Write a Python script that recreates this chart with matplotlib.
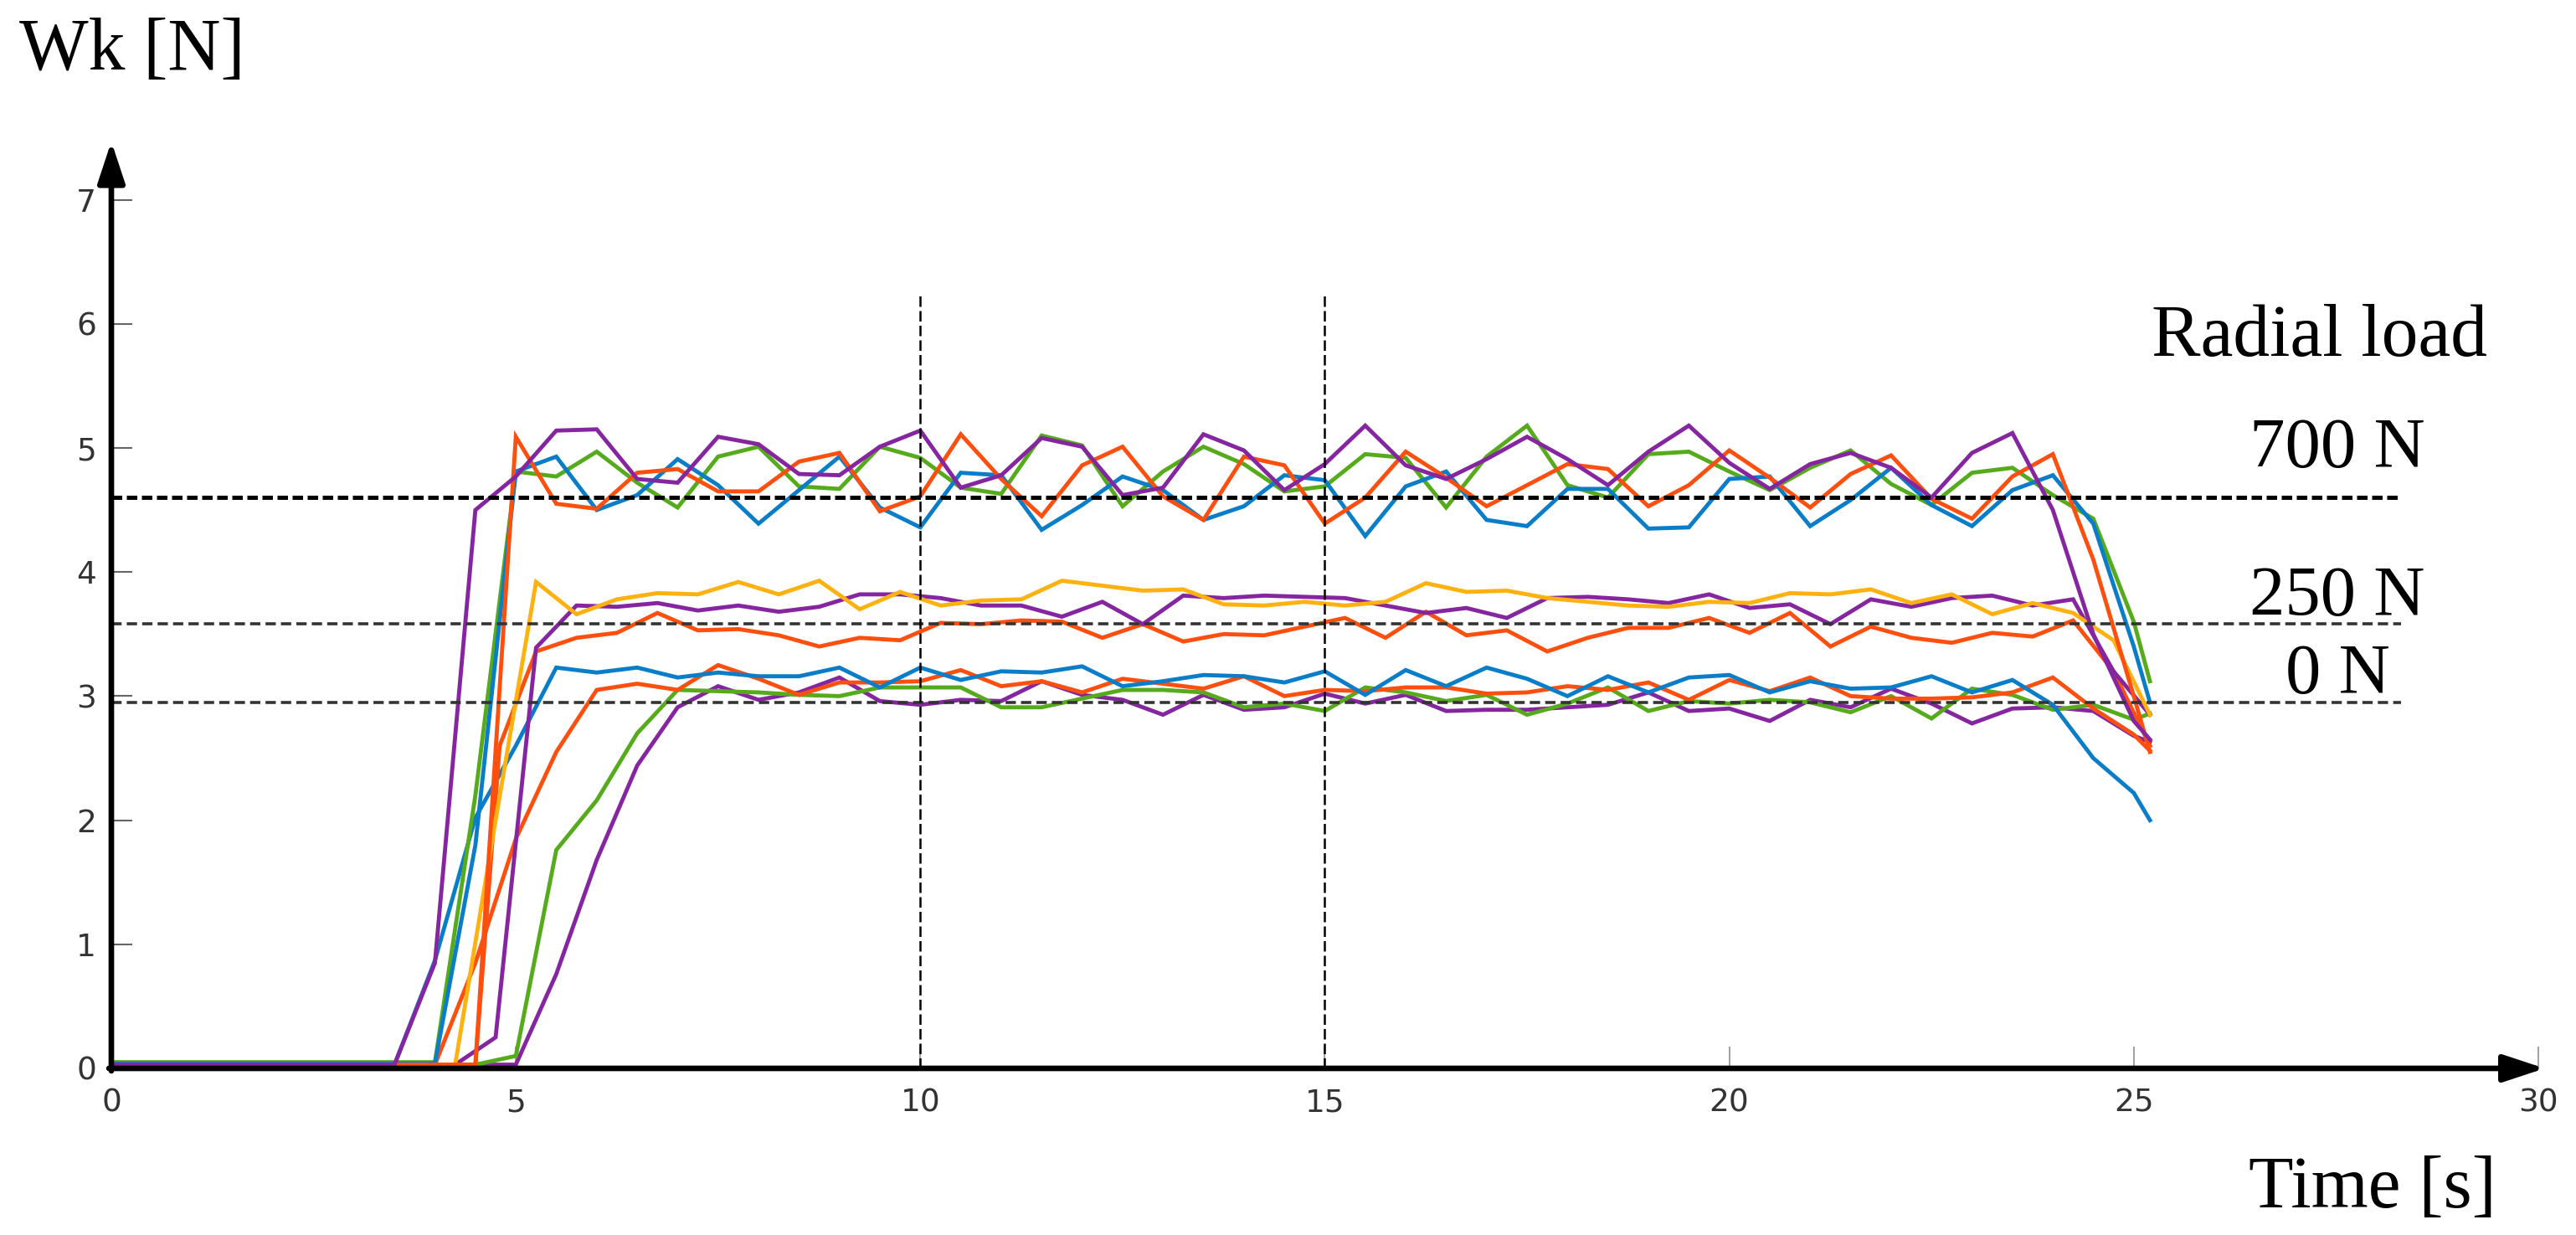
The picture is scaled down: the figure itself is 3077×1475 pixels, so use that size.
import matplotlib
matplotlib.use("Agg")
import matplotlib.pyplot as plt

# ---------------- data ----------------
grid_a = [5.0, 5.5, 6.0, 6.5, 7.0, 7.5, 8.0, 8.5, 9.0, 9.5, 10.0,
          10.5, 11.0, 11.5, 12.0, 12.5, 13.0, 13.5, 14.0, 14.5, 15.0,
          15.5, 16.0, 16.5, 17.0, 17.5, 18.0, 18.5, 19.0, 19.5, 20.0,
          20.5, 21.0, 21.5, 22.0, 22.5, 23.0, 23.5, 24.0]
grid_b = [5.25, 5.75, 6.25, 6.75, 7.25, 7.75, 8.25, 8.75, 9.25, 9.75,
          10.25, 10.75, 11.25, 11.75, 12.25, 12.75, 13.25, 13.75, 14.25, 14.75,
          15.25, 15.75, 16.25, 16.75, 17.25, 17.75, 18.25, 18.75, 19.25, 19.75,
          20.25, 20.75, 21.25, 21.75, 22.25, 22.75, 23.25, 23.75, 24.25]

# 700 N group
a_purple_t = [0, 3.5, 4.0, 4.5] + grid_a + [24.5, 25.0, 25.2]
a_purple = [0.03, 0.03, 0.85, 4.5,
            4.77, 5.14, 5.15, 4.75, 4.72, 5.09, 5.03, 4.79, 4.78, 5.01, 5.14,
            4.68, 4.78, 5.08, 5.01, 4.62, 4.68, 5.11, 4.98, 4.66, 4.87,
            5.18, 4.86, 4.75, 4.91, 5.09, 4.91, 4.70, 4.97, 5.18, 4.88,
            4.67, 4.87, 4.96, 4.84, 4.60, 4.96, 5.12, 4.50,
            3.5, 2.8, 2.65]
a_orange_t = [0, 4.5] + grid_a + [24.5, 25.0, 25.2]
a_orange = [0.03, 0.03,
            5.09, 4.55, 4.51, 4.80, 4.83, 4.65, 4.65, 4.89, 4.96, 4.49, 4.61,
            5.11, 4.75, 4.45, 4.86, 5.01, 4.61, 4.42, 4.93, 4.86, 4.39,
            4.60, 4.97, 4.76, 4.53, 4.70, 4.87, 4.83, 4.53, 4.70, 4.98,
            4.76, 4.52, 4.79, 4.94, 4.59, 4.43, 4.77, 4.95,
            4.1, 3.0, 2.55]
a_blue_t = [0, 4.0, 4.5] + grid_a + [24.5, 25.0, 25.2]
a_blue = [0.04, 0.04, 1.8,
          4.81, 4.93, 4.50, 4.62, 4.91, 4.70, 4.39, 4.66, 4.93, 4.52, 4.36,
          4.80, 4.78, 4.34, 4.54, 4.77, 4.66, 4.42, 4.53, 4.78, 4.74,
          4.29, 4.69, 4.81, 4.42, 4.37, 4.67, 4.67, 4.35, 4.36, 4.75,
          4.77, 4.37, 4.58, 4.84, 4.54, 4.37, 4.66, 4.78,
          4.39, 3.4, 2.95]
a_green_t = [0, 4.0, 4.5] + grid_a + [24.5, 25.0, 25.2]
a_green = [0.05, 0.05, 2.2,
           4.81, 4.77, 4.97, 4.72, 4.52, 4.93, 5.01, 4.69, 4.67, 5.01, 4.92,
           4.68, 4.63, 5.10, 5.02, 4.53, 4.81, 5.01, 4.87, 4.65, 4.69,
           4.95, 4.92, 4.52, 4.93, 5.18, 4.70, 4.60, 4.95, 4.97, 4.81,
           4.66, 4.84, 4.98, 4.71, 4.54, 4.80, 4.84, 4.62,
           4.43, 3.6, 3.12]

# 250 N group
b_yellow_t = [0, 4.25, 4.75] + grid_b + [24.75, 25.2]
b_yellow = [0.03, 0.03, 2.0,
            3.92, 3.66, 3.78, 3.83, 3.82, 3.92, 3.82, 3.93, 3.70, 3.84,
            3.73, 3.77, 3.78, 3.93, 3.89, 3.85, 3.86, 3.74, 3.73, 3.76,
            3.73, 3.76, 3.91, 3.84, 3.85, 3.79, 3.76, 3.73, 3.72, 3.76,
            3.75, 3.83, 3.82, 3.86, 3.75, 3.82, 3.66, 3.75, 3.67,
            3.45, 2.85]
b_purple_t = [0, 4.25, 4.75] + grid_b + [24.75, 25.2]
b_purple = [0.03, 0.03, 0.25,
            3.39, 3.73, 3.72, 3.75, 3.69, 3.73, 3.68, 3.72, 3.82, 3.82,
            3.79, 3.73, 3.73, 3.64, 3.76, 3.58, 3.81, 3.79, 3.81, 3.80,
            3.79, 3.73, 3.67, 3.71, 3.63, 3.79, 3.80, 3.78, 3.75, 3.82,
            3.71, 3.74, 3.58, 3.78, 3.72, 3.79, 3.81, 3.73, 3.78,
            3.2, 2.85]
b_orange_t = [0, 4.5, 4.8] + grid_b + [24.75, 25.2]
b_orange = [0.03, 0.03, 2.6,
            3.36, 3.47, 3.51, 3.67, 3.53, 3.54, 3.49, 3.40, 3.47, 3.45,
            3.59, 3.58, 3.61, 3.60, 3.47, 3.58, 3.44, 3.50, 3.49, 3.56,
            3.63, 3.47, 3.68, 3.49, 3.53, 3.36, 3.47, 3.55, 3.55, 3.63,
            3.51, 3.67, 3.40, 3.56, 3.47, 3.43, 3.51, 3.48, 3.61,
            3.2, 2.6]

# 0 N group
c_blue_t = [0, 3.5, 4.0, 4.5] + grid_a + [24.5, 25.0, 25.2]
c_blue = [0.03, 0.03, 0.87, 2.02,
          2.60, 3.23, 3.19, 3.23, 3.15, 3.19, 3.16, 3.16, 3.23, 3.07, 3.23,
          3.13, 3.20, 3.19, 3.24, 3.08, 3.12, 3.17, 3.16, 3.11, 3.20,
          3.01, 3.21, 3.08, 3.23, 3.14, 3.00, 3.16, 3.03, 3.15, 3.17,
          3.03, 3.12, 3.06, 3.07, 3.16, 3.03, 3.13, 2.93,
          2.5, 2.22, 2.0]
c_orange_t = [0, 4.0, 4.5] + grid_a + [24.5, 25.0, 25.2]
c_orange = [0.03, 0.03, 0.85,
            1.85, 2.55, 3.05, 3.10, 3.05, 3.25, 3.14, 3.01, 3.11, 3.11, 3.12,
            3.21, 3.08, 3.12, 3.03, 3.14, 3.10, 3.06, 3.16, 3.00, 3.05,
            3.04, 3.07, 3.07, 3.02, 3.03, 3.08, 3.05, 3.11, 2.97, 3.13,
            3.04, 3.15, 3.00, 2.98, 2.98, 2.99, 3.03, 3.15,
            2.9, 2.69, 2.56]
c_green_t = [0, 4.5] + grid_a + [24.5, 25.0, 25.2]
c_green = [0.03, 0.03,
           0.10, 1.76, 2.16, 2.70, 3.05, 3.04, 3.03, 3.01, 3.00, 3.07, 3.07,
           3.07, 2.91, 2.91, 2.98, 3.05, 3.05, 3.03, 2.91, 2.94, 2.88,
           3.07, 3.03, 2.96, 3.01, 2.85, 2.94, 3.07, 2.88, 2.96, 2.94,
           2.97, 2.95, 2.87, 3.00, 2.82, 3.06, 3.01, 2.89,
           2.93, 2.81, 2.86]
c_purple_t = [0] + grid_a + [24.5, 25.0, 25.2]
c_purple = [0.03,
            0.03, 0.76, 1.68, 2.44, 2.91, 3.08, 2.97, 3.03, 3.15, 2.96, 2.93,
            2.97, 2.96, 3.12, 3.01, 2.97, 2.85, 3.01, 2.89, 2.91, 3.02,
            2.94, 3.01, 2.88, 2.89, 2.89, 2.91, 2.93, 3.03, 2.88, 2.90,
            2.80, 2.97, 2.91, 3.06, 2.94, 2.78, 2.90, 2.91,
            2.88, 2.68, 2.63]

load_levels = [4.6, 3.58, 2.95]
load_labels = ["700 N", "250 N", "0 N"]
marker_times = [10, 15]
x_ticks = [0, 5, 10, 15, 20, 25, 30]
y_ticks = [0, 1, 2, 3, 4, 5, 6, 7]

# ---------------- style ----------------
BLUE = "#0a7dc9"
ORANGE = "#ff4f0f"
YELLOW = "#ffb20f"
PURPLE = "#8526a0"
GREEN = "#56ab1c"
SERIF = ["Liberation Serif", "DejaVu Serif"]

W, H = 3077, 1475
fig = plt.figure(figsize=(W / 100, H / 100), dpi=100)
x0_px, y0_px = 133, 1276
px_per_s, px_per_unit = 96.63, 148.2
xmax, ymax = 30.4, 7.6
ax = fig.add_axes([x0_px / W, (H - y0_px) / H,
                   xmax * px_per_s / W, ymax * px_per_unit / H])
ax.set_xlim(0, xmax)
ax.set_ylim(0, ymax)
for s in ax.spines.values():
    s.set_visible(False)

series = [
    (c_purple_t, c_purple, PURPLE),
    (c_green_t, c_green, GREEN),
    (c_orange_t, c_orange, ORANGE),
    (c_blue_t, c_blue, BLUE),
    (b_orange_t, b_orange, ORANGE),
    (b_purple_t, b_purple, PURPLE),
    (b_yellow_t, b_yellow, YELLOW),
    (a_green_t, a_green, GREEN),
    (a_blue_t, a_blue, BLUE),
    (a_orange_t, a_orange, ORANGE),
    (a_purple_t, a_purple, PURPLE),
]
for t, v, c in series:
    ax.plot(t, v, color=c, lw=3.5, solid_joinstyle="miter", zorder=3)

# reference dashed lines
ax.plot([0, 28.3], [load_levels[0]] * 2, color="black", lw=3.6,
        linestyle=(0, (2.5, 1.1)), zorder=4)
for lvl in load_levels[1:]:
    ax.plot([0, 28.3], [lvl, lvl], color="#333333", lw=2.6,
            linestyle=(0, (3.4, 1.7)), zorder=4)
for mt in marker_times:
    ax.plot([mt, mt], [0, 6.24], color="black", lw=1.8,
            linestyle=(0, (5, 2)), zorder=4)

# axes with arrows
arrow_kw = dict(arrowstyle="-|>,head_length=1.0,head_width=0.33",
                lw=4.8, color="black", mutation_scale=30,
                shrinkA=0, shrinkB=0)
ax.annotate("", xy=(0, 7.47), xytext=(0, -0.02), arrowprops=arrow_kw,
            annotation_clip=False, zorder=6)
ax.annotate("", xy=(30.08, 0), xytext=(-0.03, 0), arrowprops=arrow_kw,
            annotation_clip=False, zorder=6)

ax.set_xticks(x_ticks)
ax.set_yticks(y_ticks)
ax.set_xticklabels([str(v) for v in x_ticks])
ax.set_yticklabels([str(v) for v in y_ticks])
ax.tick_params(axis="x", direction="in", length=19, width=1.3,
               color="#999999", pad=17, labelsize=27, labelcolor="#333333")
ax.tick_params(axis="y", direction="in", length=18, width=1.5,
               color="#666666", pad=13, labelsize=27, labelcolor="#333333")
for lab in ax.get_xticklabels() + ax.get_yticklabels():
    lab.set_fontfamily(["DejaVu Sans"])

# texts
fig.text(23 / W, 1 - 83 / H, "Wk [N]", family=SERIF, fontsize=63,
         ha="left", va="baseline")
fig.text(2834 / W, 1 - 1442 / H, "Time [s]", family=SERIF, fontsize=63,
         ha="center", va="baseline")
fig.text(2770 / W, 1 - 425 / H, "Radial load", family=SERIF, fontsize=63,
         ha="center", va="baseline")
label_baselines = [558, 735, 828]
for lab, yb in zip(load_labels, label_baselines):
    fig.text(2792 / W, 1 - yb / H, lab, family=SERIF, fontsize=61,
             ha="center", va="baseline")

fig.savefig("out.png", dpi=100)
